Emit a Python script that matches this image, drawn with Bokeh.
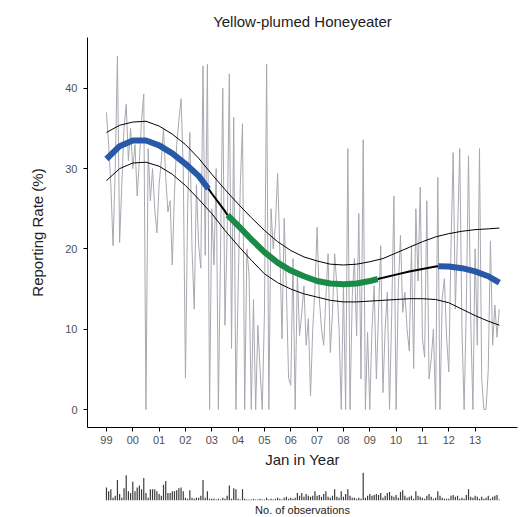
from bokeh.plotting import figure
from bokeh.layouts import column
from bokeh.models import Range1d, FixedTicker, Title
from bokeh.embed import file_html
from bokeh.resources import INLINE

FONT = "Liberation Sans"

# ---- data -------------------------------------------------------------
title_text = "Yellow-plumed Honeyeater"
x_label = "Jan in Year"
y_label = "Reporting Rate (%)"
obs_label = "No. of observations"

year_ticks = [1999, 2000, 2001, 2002, 2003, 2004, 2005, 2006, 2007, 2008, 2009, 2010, 2011, 2012, 2013]
year_labels = ["99", "00", "01", "02", "03", "04", "05", "06", "07", "08", "09", "10", "11", "12", "13"]
rate_ticks = [0, 10, 20, 30, 40]

# monthly reporting rate (%), Jan 1999 .. Dec 2013
rate_1999 = [37, 33, 28, 20.4, 30, 44, 20.8, 28, 35, 38, 31, 35]
rate_2000 = [30, 33, 26.6, 31, 36, 39.3, 0, 32.5, 26, 30, 25, 22]
rate_2001 = [28, 31, 35, 29, 24.6, 26, 18, 27, 33, 36, 38.7, 30]
rate_2002 = [3.9, 25, 34.5, 20, 12.5, 28, 20.5, 17.6, 42.8, 19.2, 43, 0]
rate_2003 = [25, 18, 30, 0, 20, 40, 10.5, 22, 41.8, 7.6, 36.4, 0]
rate_2004 = [15, 28, 35.6, 0, 20, 16.7, 0, 13.7, 0, 10.5, 5, 0]
rate_2005 = [12, 43, 0, 25, 20, 23, 29.4, 20, 8.8, 23.8, 15, 3.9]
rate_2006 = [3, 18.8, 0, 17, 9.2, 12, 15.4, 8, 11.3, 1.7, 10, 15]
rate_2007 = [22.7, 13.8, 10, 8, 14, 19.4, 7.1, 12, 19.4, 15.4, 10, 0]
rate_2008 = [15.4, 0, 32.5, 0, 14, 18.8, 9.2, 24.4, 3.8, 33.6, 0, 9.6]
rate_2009 = [0, 10, 15.4, 3.8, 12, 20.4, 2.1, 10, 14.6, 0, 12, 26.6]
rate_2010 = [0, 15, 21.7, 12.1, 14.6, 10, 7.3, 20.4, 5.1, 25, 16, 27.7]
rate_2011 = [8.8, 6.5, 26, 3.8, 6.3, 10, 0, 28.9, 0, 13.8, 16.3, 9]
rate_2012 = [4.7, 20, 32, 12.5, 22, 32.5, 10, 0, 13, 31.6, 11.3, 0]
rate_2013 = [20, 8, 32.5, 3.8, 0, 0, 5, 21, 8, 13, 9, 12.5]

# monthly number of observations
obs_1999 = [14, 10, 12, 3, 5, 22, 7, 3, 13, 27, 10, 8]
obs_2000 = [20, 10, 14, 16, 12, 24, 8, 3, 12, 12, 12, 10]
obs_2001 = [7, 5, 17, 21, 8, 8, 10, 10, 11, 13, 14, 10]
obs_2002 = [3, 2, 11, 3, 2, 3, 3, 5, 22, 3, 10, 2]
obs_2003 = [2, 2, 1, 2, 1, 3, 2, 5, 16, 2, 13, 12]
obs_2004 = [2, 1, 12, 2, 1, 1, 1, 2, 1, 1, 2, 1]
obs_2005 = [1, 3, 1, 2, 1, 2, 3, 2, 1, 3, 4, 2]
obs_2006 = [3, 2, 3, 8, 5, 8, 4, 7, 5, 4, 5, 10]
obs_2007 = [5, 6, 4, 7, 10, 4, 3, 5, 12, 4, 3, 10]
obs_2008 = [4, 7, 12, 5, 3, 3, 2, 3, 2, 30, 3, 5]
obs_2009 = [7, 5, 6, 7, 6, 8, 3, 5, 8, 9, 5, 4]
obs_2010 = [6, 3, 9, 11, 5, 3, 4, 5, 2, 10, 5, 4]
obs_2011 = [3, 2, 5, 7, 4, 2, 3, 10, 5, 3, 2, 2]
obs_2012 = [2, 5, 6, 4, 5, 2, 3, 2, 6, 12, 4, 3]
obs_2013 = [5, 4, 2, 4, 2, 3, 5, 2, 4, 5, 6, 1]

# fitted trend
fit_year = [1999.0, 1999.5, 2000.0, 2000.5, 2001.0, 2001.5, 2002.0, 2002.5, 2002.87,
            2003.0, 2003.5, 2003.6, 2004.0, 2004.5, 2005.0, 2005.5, 2006.0, 2006.5,
            2007.0, 2007.5, 2008.0, 2008.5, 2009.0, 2009.3, 2009.5, 2010.0, 2010.5,
            2011.0, 2011.5, 2011.6, 2012.0, 2012.5, 2013.0, 2013.5, 2013.92]
fit_mid = [31.2, 32.8, 33.5, 33.5, 32.9, 31.9, 30.6, 29.1, 27.5,
           26.9, 24.7, 24.2, 22.9, 21.2, 19.6, 18.3, 17.3, 16.6,
           16.0, 15.7, 15.6, 15.7, 16.0, 16.25, 16.4, 16.8, 17.2,
           17.5, 17.8, 17.85, 17.8, 17.6, 17.2, 16.6, 15.8]
trend_breaks = [2002.87, 2003.6, 2009.3, 2011.6]
trend_colors = ["#2858a8", "#000000", "#1b8a46", "#000000", "#2858a8"]

band_year = [1999.0, 1999.5, 2000.0, 2000.5, 2001.0, 2001.5, 2002.0, 2002.5, 2003.0, 2003.5,
             2004.0, 2004.5, 2005.0, 2005.5, 2006.0, 2006.5, 2007.0, 2007.5, 2008.0, 2008.5,
             2009.0, 2009.5, 2010.0, 2010.5, 2011.0, 2011.5, 2012.0, 2012.5, 2013.0, 2013.5, 2013.92]
band_upper = [34.5, 35.4, 35.8, 35.9, 35.3, 34.3, 33.0, 31.3, 29.3, 27.4,
              25.6, 23.9, 22.3, 20.9, 19.8, 19.0, 18.5, 18.1, 18.0, 18.1,
              18.4, 18.8, 19.5, 20.2, 20.9, 21.5, 21.9, 22.2, 22.4, 22.5, 22.6]
band_lower = [28.5, 30.0, 30.7, 30.8, 30.3, 29.3, 27.9, 26.2, 24.4, 22.3,
              20.4, 18.6, 16.9, 15.8, 15.0, 14.4, 14.0, 13.6, 13.4, 13.4,
              13.5, 13.6, 13.7, 13.8, 13.8, 13.7, 13.3, 12.5, 11.7, 11.0, 10.5]

# ---- assemble ----------------------------------------------------------
rates = (rate_1999 + rate_2000 + rate_2001 + rate_2002 + rate_2003 + rate_2004 + rate_2005 +
         rate_2006 + rate_2007 + rate_2008 + rate_2009 + rate_2010 + rate_2011 + rate_2012 + rate_2013)
obs = (obs_1999 + obs_2000 + obs_2001 + obs_2002 + obs_2003 + obs_2004 + obs_2005 +
       obs_2006 + obs_2007 + obs_2008 + obs_2009 + obs_2010 + obs_2011 + obs_2012 + obs_2013)
month_x = [1999 + i / 12 for i in range(len(rates))]

x_range = Range1d(1998.28, 2014.61)

p1 = figure(width=525, height=471, x_range=x_range, y_range=Range1d(-2.24, 46.33),
            output_backend="svg", toolbar_location=None,
            min_border_left=87, min_border_right=8, min_border_top=37, min_border_bottom=44)
p1.grid.visible = False
p1.outline_line_color = None
p1.background_fill_color = "white"
p1.border_fill_color = "white"

p1.title.text = title_text
p1.title.align = "center"
p1.title.text_font = FONT
p1.title.text_font_size = "15px"
p1.title.text_font_style = "normal"
p1.title.text_color = "#222222"
p1.title.standoff = 15

xa = p1.xaxis[0]
xa.ticker = FixedTicker(ticks=year_ticks)
xa.major_label_overrides = {t: l for t, l in zip(year_ticks, year_labels)}
xa.minor_tick_line_color = None
xa.major_tick_in = 0
xa.major_tick_out = 4
xa.major_label_standoff = 4
xa.major_label_text_font = FONT
xa.major_label_text_font_size = "11px"
xa.major_label_text_color = "#505050"
xa.axis_label = x_label
xa.axis_label_text_font = FONT
xa.axis_label_text_font_size = "15px"
xa.axis_label_text_font_style = "normal"
xa.axis_label_text_color = "#222222"
xa.axis_label_standoff = 4

ya = p1.yaxis[0]
ya.ticker = FixedTicker(ticks=rate_ticks)
ya.minor_tick_line_color = None
ya.major_tick_in = 0
ya.major_tick_out = 4
ya.major_label_standoff = 6
ya.major_label_text_font = FONT
ya.major_label_text_font_size = "11px"
ya.major_label_text_color = "#505050"
ya.axis_label = y_label
ya.axis_label_text_font = FONT
ya.axis_label_text_font_size = "15px"
ya.axis_label_text_font_style = "normal"
ya.axis_label_text_color = "#222222"
ya.axis_label_standoff = 16

# raw monthly series
p1.line(month_x, rates, line_color="#a8a8b0", line_width=1)

# confidence band
p1.line(band_year, band_upper, line_color="black", line_width=1)
p1.line(band_year, band_lower, line_color="black", line_width=1)

# trend, coloured by segment
bounds = [fit_year[0]] + trend_breaks + [fit_year[-1]]
for i, col in enumerate(trend_colors):
    a, b = bounds[i], bounds[i + 1]
    xs = [yv for yv in fit_year if a <= yv <= b]
    ys = [v for yv, v in zip(fit_year, fit_mid) if a <= yv <= b]
    lw = 2 if col == "#000000" else 6
    p1.line(xs, ys, line_color=col, line_width=lw, line_cap="butt")

# observations strip
p2 = figure(width=525, height=45, x_range=x_range, y_range=Range1d(0, 30),
            output_backend="svg", toolbar_location=None,
            x_axis_location=None, y_axis_location=None,
            min_border_left=87, min_border_right=8, min_border_top=1, min_border_bottom=14)
p2.grid.visible = False
p2.outline_line_color = None
p2.vbar(x=month_x, top=obs, bottom=0, width=0.045, fill_color="#3a3a3a", line_color=None)
t2 = Title(text=obs_label, align="center", text_font=FONT, text_font_size="11px",
           text_font_style="normal", text_color="#222222", standoff=2)
p2.add_layout(t2, "below")

layout = column(p1, p2, spacing=0)
open("out.html", "w").write(file_html(layout, INLINE))
